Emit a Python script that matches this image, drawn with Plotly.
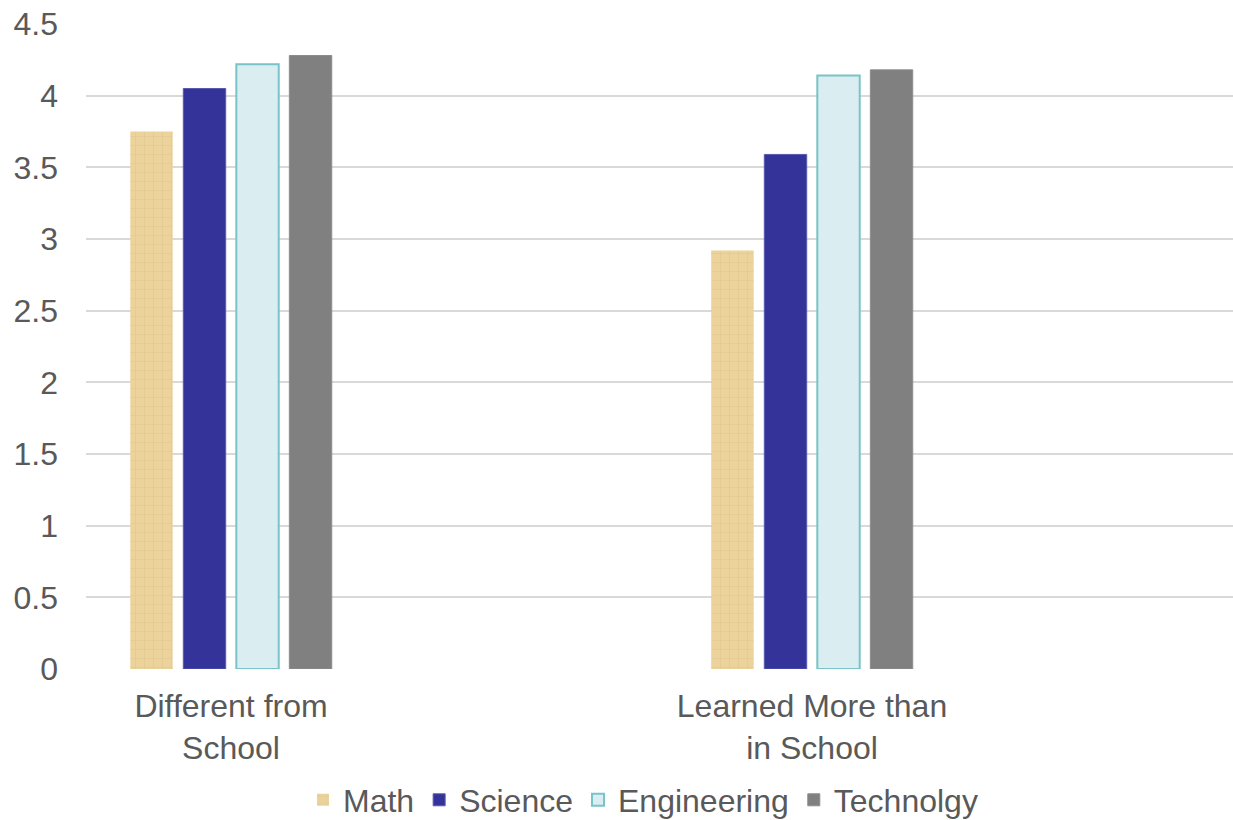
import plotly.graph_objects as go

categories = ["Different from<br>School", "Learned More than<br>in School"]
series_names = ["Math", "Science", "Engineering", "Technolgy"]
math_vals = [3.75, 2.92]
science_vals = [4.05, 3.59]
engineering_vals = [4.22, 4.14]
technology_vals = [4.28, 4.18]
y_ticks = [0, 0.5, 1, 1.5, 2, 2.5, 3, 3.5, 4, 4.5]
y_tick_labels = ["0", "0.5", "1", "1.5", "2", "2.5", "3", "3.5", "4", "4.5"]

FONT = "Liberation Sans, Arial, sans-serif"
TXT = "#595959"
FS = 32

fig = go.Figure()
fig.add_trace(go.Bar(
    name=series_names[0], x=[0, 1], y=math_vals,
    marker=dict(color="#ecd39c", line=dict(width=0),
                pattern=dict(shape="+", fgcolor="#d6bb82", size=9, solidity=0.12)),
))
fig.add_trace(go.Bar(
    name=series_names[1], x=[0, 1], y=science_vals,
    marker=dict(color="#333399", line=dict(color="#5a5ab0", width=1)),
))
fig.add_trace(go.Bar(
    name=series_names[2], x=[0, 1], y=engineering_vals,
    marker=dict(color="#daedf0", line=dict(color="#78c4c8", width=2)),
))
fig.add_trace(go.Bar(
    name=series_names[3], x=[0, 1], y=technology_vals,
    marker=dict(color="#808080", line=dict(color="#8c8c8c", width=1)),
))

fig.update_layout(
    width=1233, height=820,
    margin=dict(l=86, r=0, t=24, b=151, autoexpand=False),
    paper_bgcolor="white", plot_bgcolor="white",
    barmode="group", bargap=0.635, bargroupgap=0.2,
    font=dict(family=FONT, color=TXT, size=FS),
    showlegend=True,
    legend=dict(orientation="h", x=643 / 1233, xref="container", xanchor="center",
                y=1 - 800 / 820, yref="container", yanchor="middle",
                font=dict(size=FS, color=TXT), traceorder="normal",
                itemwidth=30, bgcolor="rgba(0,0,0,0)"),
    xaxis=dict(
        tickmode="array", tickvals=[0, 1], ticktext=categories,
        range=[-0.2496, 1.7246], showgrid=False, zeroline=False,
        showline=False, ticks="", tickfont=dict(size=FS, color=TXT),
        ticklabelstandoff=15, automargin=False,
    ),
    yaxis=dict(
        range=[0, 4.5], tickmode="array", tickvals=y_ticks, ticktext=y_tick_labels,
        showgrid=True, gridcolor="#d9d9d9", gridwidth=1.5, zeroline=False,
        showline=False, ticks="", tickfont=dict(size=FS, color=TXT),
        ticklabelstandoff=27, automargin=False,
    ),
)

fig.write_html("out.html")
